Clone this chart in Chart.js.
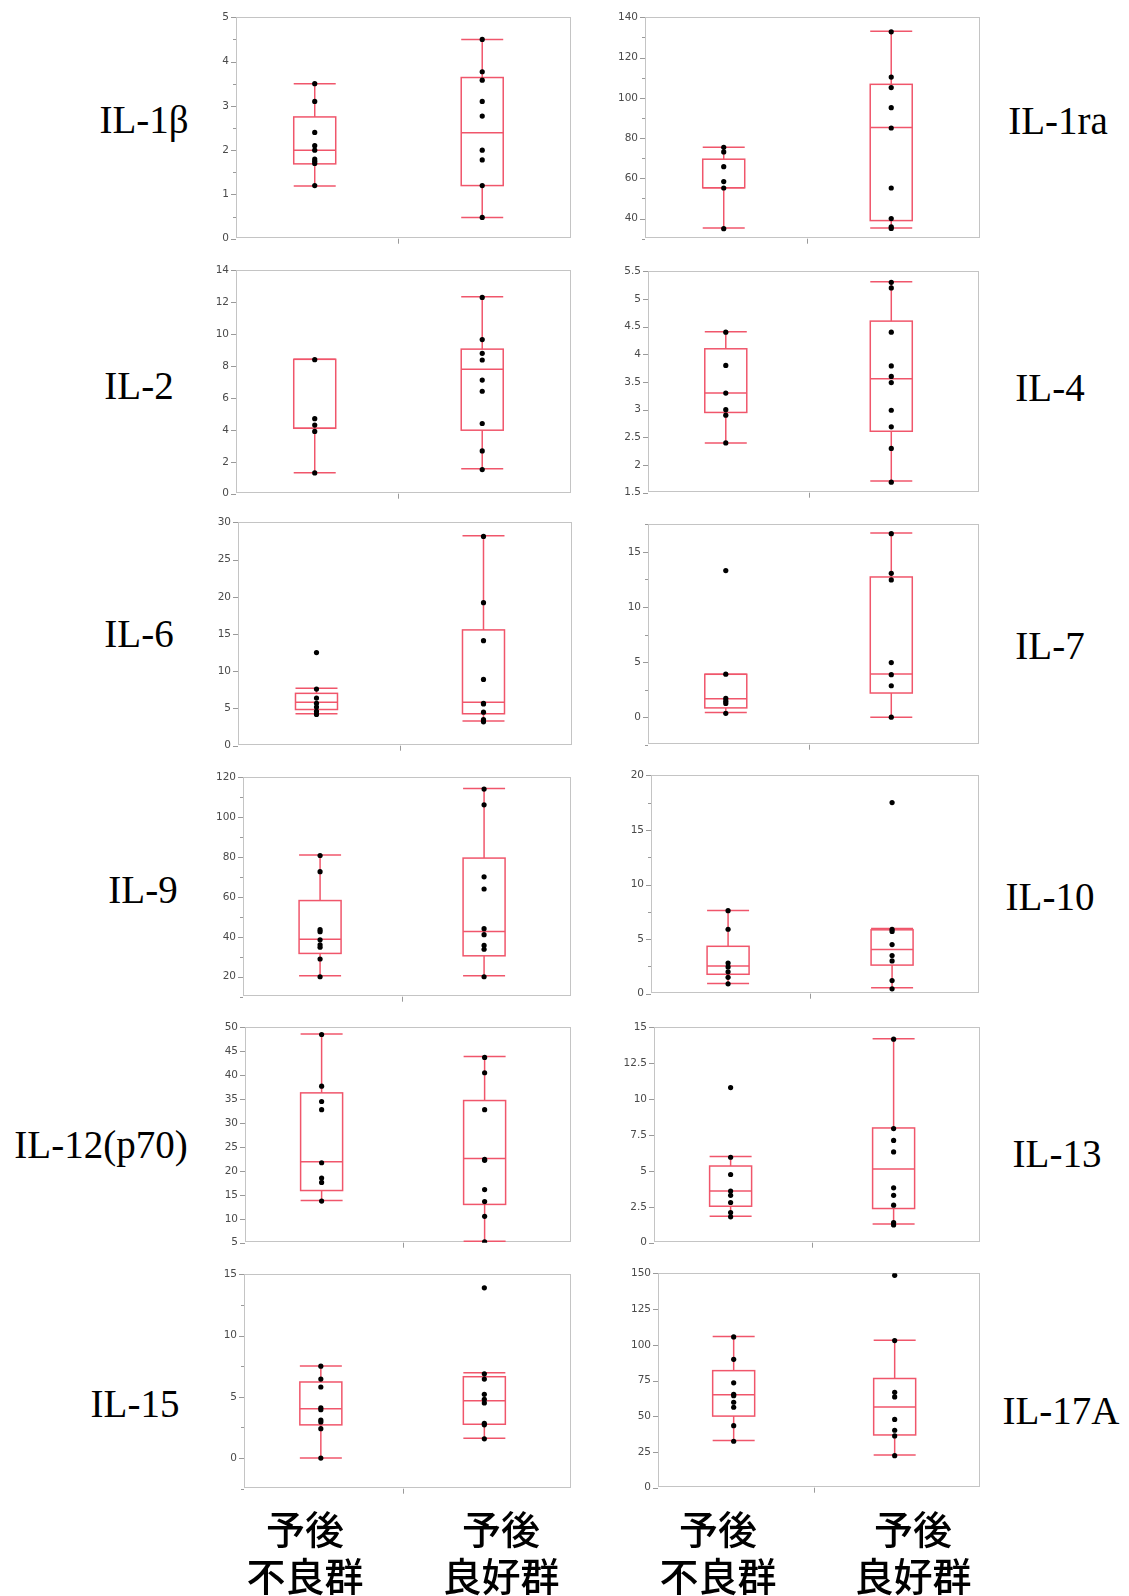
<!DOCTYPE html>
<html>
<head>
<meta charset="utf-8">
<script src="https://cdn.jsdelivr.net/npm/chart.js@4.4.1/dist/chart.umd.min.js"></script>
<style>
  body { margin: 0; background: #fff; }
  #page { position: relative; width: 1129px; height: 1596px; overflow: hidden; background: #fff; }
  #page canvas { position: absolute; }
  .name {
    position: absolute; transform: translate(-50%, -50%);
    font-family: "Liberation Serif", "Times New Roman", serif; font-size: 39px; line-height: 1;
    white-space: nowrap; color: #000;
  }
  .group {
    position: absolute; transform: translateX(-50%);
    font-family: "Noto Sans CJK JP", sans-serif; font-size: 39px; font-weight: 500; line-height: 47px;
    text-align: center; white-space: pre; color: #000;
  }
</style>
</head>
<body>
<div id="page"></div>
<script>
// cytokines, in reading order (left, right, left, right ...)
const cytokines = ['IL-1β', 'IL-1ra', 'IL-2', 'IL-4', 'IL-6', 'IL-7',
                   'IL-9', 'IL-10', 'IL-12(p70)', 'IL-13', 'IL-15', 'IL-17A'];
const groups = ['予後\n不良群', '予後\n良好群'];

// y axis ranges and tick steps
const yMin      = [0,  30, 0,  1.5, 0,  -2.5, 10,  0,  5,  0,   -2.5, 0];
const yMax      = [5, 140, 14, 5.5, 30, 17.5, 120, 20, 50, 15,  15,   150];
const majorStep = [1,  20, 2,  0.5, 5,  5,    20,  5,  5,  2.5, 5,    25];
const minorStep = [0.5, 10, 2, 0.5, 5,  2.5,  10,  2.5, 5, 2.5, 2.5,  25];

// individual measurements, poor prognosis group
const poorValues = [
  [3.5, 3.1, 2.4, 2.1, 2.0, 1.8, 1.75, 1.7, 1.2],
  [75.4, 73.1, 65.8, 58.4, 55.2, 35.0],
  [8.4, 4.7, 4.3, 3.9, 1.3],
  [4.4, 3.8, 3.3, 3.0, 2.9, 2.4],
  [12.5, 7.6, 6.4, 5.7, 5.2, 4.6, 4.2],
  [13.3, 3.9, 1.7, 1.45, 1.25, 0.35],
  [80.8, 72.7, 43.6, 42.6, 38.5, 36.0, 34.8, 28.9, 20.0],
  [7.6, 5.9, 2.8, 2.45, 2.0, 1.5, 0.9],
  [48.5, 37.7, 34.5, 32.8, 21.7, 18.5, 17.6, 13.7],
  [10.8, 5.95, 4.75, 3.6, 3.3, 2.8, 2.1, 1.8],
  [7.5, 6.45, 5.8, 4.1, 3.95, 3.1, 2.95, 2.4, 0],
  [105.5, 89.8, 73.4, 65.3, 64.4, 59.8, 56.3, 43.4, 32.5]
];

// individual measurements, good prognosis group
const goodValues = [
  [4.5, 3.77, 3.58, 3.1, 2.77, 2.0, 1.78, 1.2, 0.48],
  [132.8, 110.3, 105.1, 95.1, 85.0, 55.2, 40.0, 35.9, 35.1],
  [12.3, 9.66, 8.8, 8.38, 7.12, 6.42, 4.4, 2.68, 1.51],
  [5.3, 5.2, 4.4, 3.79, 3.6, 3.49, 2.99, 2.69, 2.3, 1.69],
  [28.1, 19.2, 14.1, 8.9, 5.7, 5.6, 4.5, 3.5, 3.2],
  [16.65, 13.05, 12.45, 4.95, 3.85, 2.85, 0],
  [114.1, 106.2, 70.1, 64.0, 44.1, 41.1, 35.7, 33.8, 20.0],
  [17.5, 5.9, 5.7, 4.5, 3.5, 3.0, 1.2, 0.45],
  [43.7, 40.5, 32.8, 22.4, 22.2, 16.1, 13.6, 10.5, 5.2],
  [14.17, 7.95, 7.12, 6.32, 3.82, 3.3, 2.61, 1.4, 1.24],
  [13.9, 6.88, 6.45, 5.2, 4.8, 4.5, 2.84, 2.71, 1.57],
  [148.6, 102.9, 66.7, 63.5, 47.8, 40.2, 36.2, 22.4]
];

// box summaries: [lower whisker, Q1, median, Q3, upper whisker]
const poorBox = [
  [1.19, 1.69, 2.0, 2.75, 3.5],
  [35.3, 55.3, 55.3, 69.5, 75.4],
  [1.32, 4.1, 4.1, 8.42, 8.42],
  [2.4, 2.95, 3.3, 4.1, 4.41],
  [4.29, 4.86, 5.83, 7.03, 7.73],
  [0.42, 0.84, 1.68, 3.89, 3.89],
  [20.5, 31.7, 38.8, 58.2, 81],
  [0.94, 1.78, 2.53, 4.34, 7.63],
  [13.8, 15.9, 21.9, 36.3, 48.6],
  [1.85, 2.54, 3.6, 5.34, 6.0],
  [0, 2.71, 4.03, 6.21, 7.51],
  [33.0, 50.1, 65.1, 81.9, 105.7]
];
const goodBox = [
  [0.48, 1.2, 2.39, 3.64, 4.5],
  [35.3, 39.0, 85.3, 106.7, 133.1],
  [1.57, 3.98, 7.8, 9.06, 12.35],
  [1.71, 2.61, 3.56, 4.6, 5.31],
  [3.31, 4.29, 5.83, 15.55, 28.2],
  [0, 2.19, 3.92, 12.72, 16.7],
  [20.5, 30.5, 42.7, 79.5, 114.4],
  [0.54, 2.62, 4.04, 5.85, 5.97],
  [5.3, 13.0, 22.6, 34.7, 43.9],
  [1.31, 2.38, 5.13, 7.99, 14.2],
  [1.62, 2.76, 4.67, 6.64, 6.96],
  [22.8, 36.9, 56.5, 76.4, 103.2]
];

// page layout: plot rectangles [left, top, right, bottom]
const frames = [
  [236, 16, 571, 240],   [645, 16, 980, 240],
  [236, 269, 571, 495],  [648, 270, 979, 494],
  [238, 521, 572, 747],  [648, 523, 979, 746],
  [243, 776, 571, 998],  [651, 774, 979, 995],
  [245, 1026, 571, 1244],[654, 1026, 980, 1244],
  [244, 1273, 571, 1490],[658, 1272, 980, 1489]
];
const namePos = [
  [144, 119], [1058, 120], [139, 385], [1050, 387], [139, 633], [1050, 645],
  [143, 889], [1050, 896], [101, 1144], [1057, 1153], [135, 1403], [1061, 1410]
];
const groupX = [305, 501, 718, 913];
const groupTop = 1504;

const AXIS_W = 44, PAD = 12, HALF_BOX = 21;
const BOX_COLOR = '#f0566b';

const isStep = (v, step) => Math.abs(v / step - Math.round(v / step)) < 1e-6;
const fmt = v => String(Math.round(v * 1000) / 1000);

const boxPlot = {
  id: 'boxPlot',
  beforeDatasetsDraw(chart, args, opts) {
    const { ctx, chartArea: a, scales: { x, y } } = chart;
    const line = (x1, y1, x2, y2) => { ctx.beginPath(); ctx.moveTo(x1, y1); ctx.lineTo(x2, y2); ctx.stroke(); };
    ctx.save();

    // frame and ticks
    ctx.strokeStyle = '#c4c4c4';
    ctx.lineWidth = 1;
    ctx.strokeRect(Math.round(a.left) + 0.5, Math.round(a.top) + 0.5,
                   Math.round(a.width) - 1, Math.round(a.height) - 1);
    ctx.strokeStyle = '#9a9a9a';
    y.ticks.forEach(t => {
      const py = Math.round(y.getPixelForValue(t.value)) + 0.5;
      const len = isStep(t.value, opts.major) ? 5 : 3;
      line(a.left - len, py, a.left, py);
    });
    const mid = Math.round((x.getPixelForValue(0) + x.getPixelForValue(1)) / 2) + 0.5;
    line(mid, a.bottom, mid, a.bottom + 5);

    // boxes and whiskers
    ctx.strokeStyle = BOX_COLOR;
    ctx.lineWidth = 1.5;
    opts.boxes.forEach((b, i) => {
      const cx = x.getPixelForValue(i);
      const [lo, q1, med, q3, hi] = b.map(v => y.getPixelForValue(v));
      line(cx, hi, cx, q3);
      line(cx, q1, cx, lo);
      line(cx - HALF_BOX, hi, cx + HALF_BOX, hi);
      line(cx - HALF_BOX, lo, cx + HALF_BOX, lo);
      ctx.strokeRect(cx - HALF_BOX, q3, HALF_BOX * 2, q1 - q3);
      line(cx - HALF_BOX, med, cx + HALF_BOX, med);
    });
    ctx.restore();
  }
};

const page = document.getElementById('page');

cytokines.forEach((name, i) => {
  const [L, T, R, B] = frames[i];
  const canvas = document.createElement('canvas');
  canvas.width = (R - L) + AXIS_W + PAD;
  canvas.height = (B - T) + PAD * 2;
  canvas.style.left = (L - AXIS_W) + 'px';
  canvas.style.top = (T - PAD) + 'px';
  page.appendChild(canvas);

  const tickValues = [];
  for (let v = yMin[i]; v <= yMax[i] + 1e-9; v += minorStep[i]) tickValues.push(Math.round(v * 1000) / 1000);

  const points = [
    ...poorValues[i].map(v => ({ x: 0, y: v })),
    ...goodValues[i].map(v => ({ x: 1, y: v }))
  ];

  new Chart(canvas, {
    type: 'scatter',
    data: {
      datasets: [{
        data: points,
        pointRadius: 2.6,
        pointBackgroundColor: '#000',
        pointBorderWidth: 0
      }]
    },
    options: {
      responsive: false,
      animation: false,
      events: [],
      layout: { padding: { top: PAD, right: PAD, bottom: PAD, left: 0 } },
      plugins: {
        legend: { display: false },
        tooltip: { enabled: false },
        boxPlot: { boxes: [poorBox[i], goodBox[i]], major: majorStep[i] }
      },
      scales: {
        x: { type: 'linear', display: false, min: -0.47, max: 1.53 },
        y: {
          min: yMin[i],
          max: yMax[i],
          afterBuildTicks: s => { s.ticks = tickValues.map(v => ({ value: v })); },
          afterFit: s => { s.width = AXIS_W; },
          grid: { display: false, drawTicks: false },
          border: { display: false },
          ticks: {
            padding: 7,
            autoSkip: false,
            color: '#4a4a4a',
            font: { family: 'DejaVu Sans', size: 10.5 },
            callback: v => isStep(v, majorStep[i]) ? fmt(v) : ''
          }
        }
      }
    },
    plugins: [boxPlot]
  });

  const label = document.createElement('div');
  label.className = 'name';
  label.textContent = name;
  label.style.left = namePos[i][0] + 'px';
  label.style.top = namePos[i][1] + 'px';
  page.appendChild(label);
});

// group names under both columns
groupX.forEach((gx, k) => {
  const g = document.createElement('div');
  g.className = 'group';
  g.textContent = groups[k % 2];
  g.style.left = gx + 'px';
  g.style.top = groupTop + 'px';
  page.appendChild(g);
});
</script>
</body>
</html>
